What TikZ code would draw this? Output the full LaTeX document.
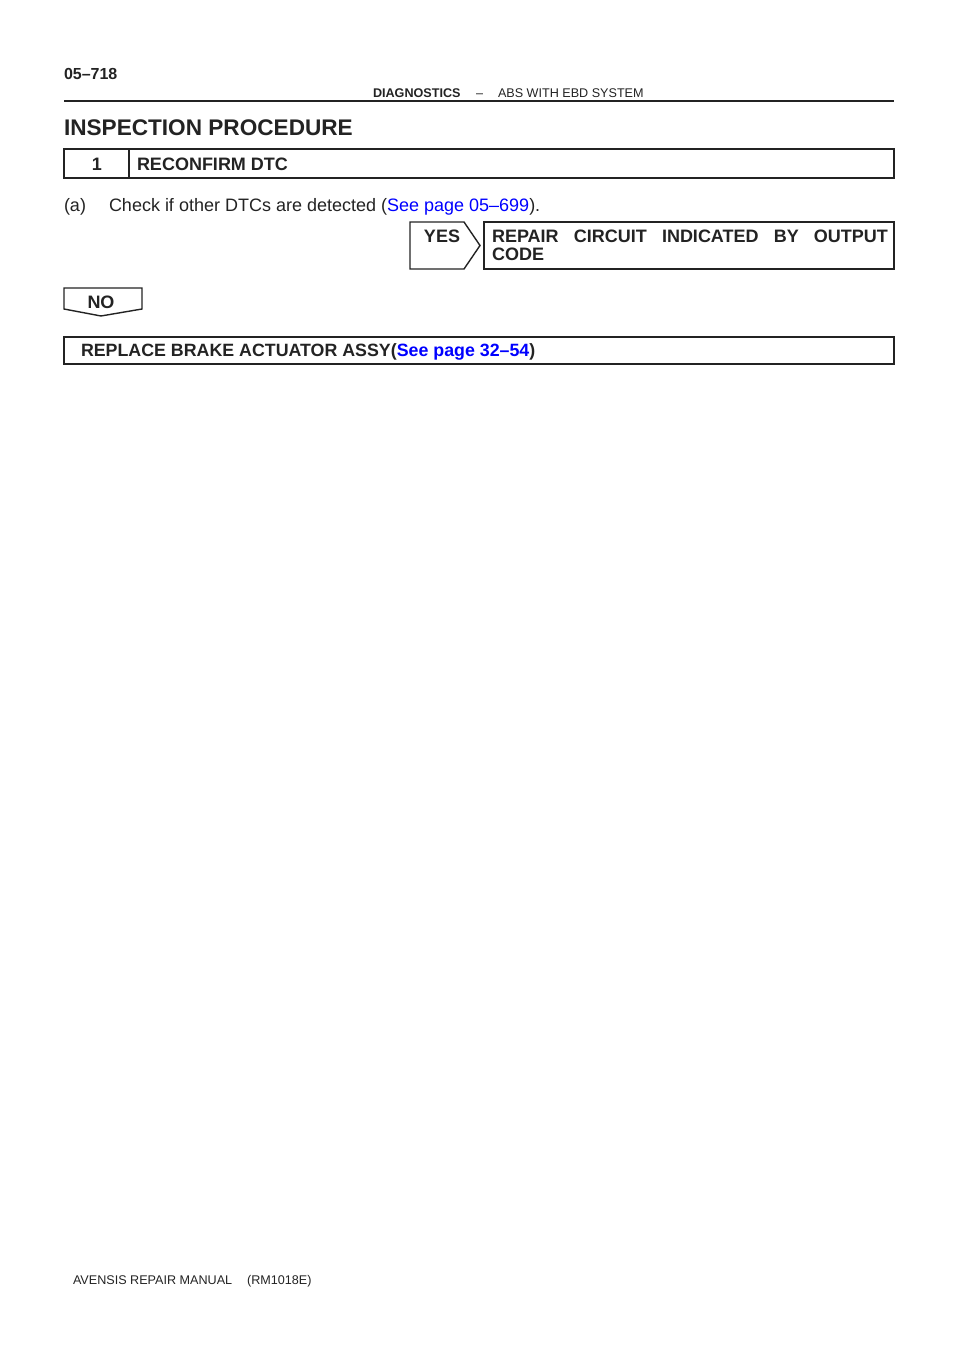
\documentclass[tikz,border=0pt]{standalone}
\usepackage{fontspec}
\setmainfont{Liberation Sans}
\usetikzlibrary{positioning}
\definecolor{linkblue}{RGB}{0,0,255}
\definecolor{ink}{RGB}{35,35,35}

\begin{document}
\begin{tikzpicture}[x=0.5pt,y=-0.5pt,line width=0.7pt,draw=ink,
    every node/.style={inner sep=0pt,outer sep=0pt,text=ink},
    txt/.style={anchor=base west,font=\fontsize{9}{11}\selectfont},
    bld/.style={anchor=base west,font=\fontsize{9}{11}\selectfont\bfseries},
    tiny/.style={anchor=base west,font=\fontsize{6.3}{7.5}\selectfont}]
  \useasboundingbox (0,0) rectangle (960,1358);

  % page header
  \node[anchor=base west,font=\fontsize{8}{9}\selectfont\bfseries] (pageno) at (64,80) {05–718};
  \node[tiny,font=\fontsize{6.3}{7.5}\selectfont\bfseries] (section) at (373,98) {DIAGNOSTICS};
  \node[tiny] (sep) at (476,98) {–};
  \node[tiny] (system) at (498,98) {ABS WITH EBD SYSTEM};
  \draw[line width=1pt] (64,101) -- (894,101);

  \node[anchor=base west,font=\fontsize{11.3}{13}\selectfont\bfseries] (title) at (64,136) {INSPECTION PROCEDURE};

  % step 1
  \draw (64,149) rectangle (894,178);
  \draw (129,149) -- (129,178);
  \node[bld,anchor=base] (stepnum) at (97,171) {1};
  \node[bld] (steptitle) at (137,171) {RECONFIRM DTC};

  \node[txt] (itema) at (64,212) {(a)};
  \node[txt] (check) at (109,212) {Check if other DTCs are detected (\textcolor{linkblue}{See page 05–699}).};

  % yes branch
  \draw (410,222) -- (464,222) -- (480,245.5) -- (464,269) -- (410,269) -- cycle;
  \node[bld,anchor=base] (yes) at (442,243) {YES};
  \draw (484,222) rectangle (894,269);
  \node[bld] (repair) at (492,243) {\makebox[198pt][s]{REPAIR CIRCUIT INDICATED BY OUTPUT}};
  \node[bld] (code) at (492,261) {CODE};

  % no branch
  \draw (64,288) -- (142,288) -- (142,309) -- (101,316) -- (64,309) -- cycle;
  \node[bld,anchor=base] (no) at (101,309) {NO};
  \draw (64,337) rectangle (894,364);
  \node[bld,font=\fontsize{8.9}{11}\selectfont\bfseries] (replace) at (81,356.5) {REPLACE BRAKE ACTUATOR ASSY(\textcolor{linkblue}{See page 32–54})};

  % footer
  \node[tiny] (footer) at (73,1284) {AVENSIS REPAIR MANUAL\hspace{7.5pt}(RM1018E)};
\end{tikzpicture}
\end{document}
